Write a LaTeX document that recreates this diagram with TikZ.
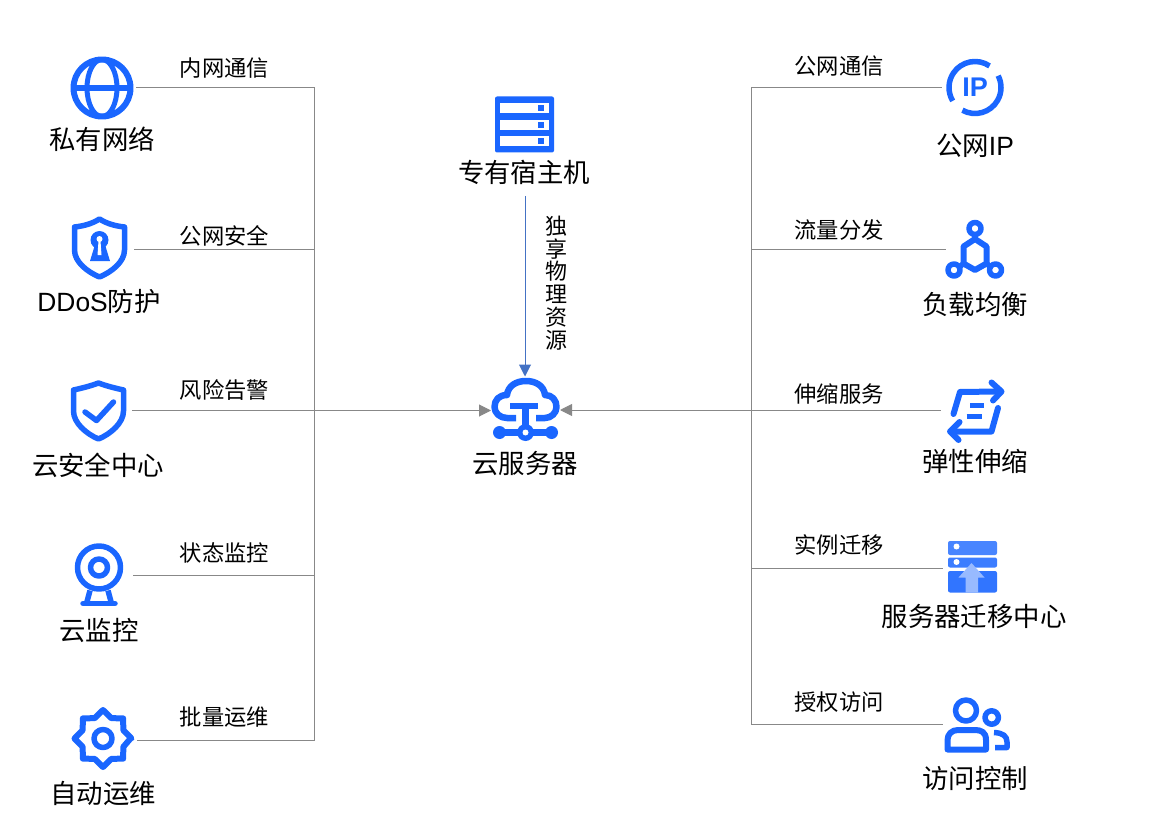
\documentclass[tikz,border=0pt]{standalone}
\usepackage{fontspec}
\setmainfont{Liberation Sans}
\newfontfamily\cjk{Noto Sans CJK SC}
\usetikzlibrary{arrows.meta}
\definecolor{iconblue}{HTML}{1A66FF}
\definecolor{linkgray}{HTML}{888888}
\definecolor{hostblue}{HTML}{4472C4}
\begin{document}
\begin{tikzpicture}[x=1pt,y=-1pt]
    \tikzset {
        icon/.style = {draw=iconblue,line width=5.5pt,line join=round,line cap=round},
        link/.style = {draw=linkgray,line width=1pt},
        big label/.style = {font=\cjk\fontsize{26.4}{30}\selectfont,text=black,inner sep=0pt},
        small label/.style = {font=\cjk\fontsize{22.3}{26}\selectfont,text=black,inner sep=0pt},
        globe icon/.pic = {
            \draw[icon,line width=6pt] (0,0) circle (28.5);
            \draw[icon,line width=5pt] (0,0) ellipse (15 and 28.5);
            \draw[icon,line cap=butt] (-28,0) -- (28,0);
        },
        lock shield icon/.pic = {
            \draw[icon] (0,-29) .. controls (-8,-24) and (-16,-22) .. (-25,-21) -- (-25,2) .. controls (-25,14) and (-12,24) .. (0,29) .. controls (12,24) and (25,14) .. (25,2) -- (25,-21) .. controls (16,-22) and (8,-24) .. (0,-29) -- cycle;
            \fill[iconblue] (0,-8) circle (9);
            \fill[iconblue] (-4,-5) -- (-9.5,13) -- (10.5,13) -- (5,-5) -- cycle;
            \fill[white] (0,-9) circle (3);
            \fill[white] (-1,-7) -- (-2,7) -- (2,7) -- (1,-7) -- cycle;
        },
        check shield icon/.pic = {
            \draw[icon] (0,-28) .. controls (-8,-25) and (-16,-23) .. (-25,-21) -- (-25,0) .. controls (-25,12) and (-12,23) .. (0,28) .. controls (12,23) and (25,12) .. (25,0) -- (25,-21) .. controls (16,-23) and (8,-25) .. (0,-28) -- cycle;
            \draw[icon] (-13.5,1) -- (-2,9.5) -- (15,-9);
        },
        camera icon/.pic = {
            \draw[icon] (0,0) circle (21.5);
            \draw[icon] (0,0) circle (8.5);
            \draw[icon,line cap=butt] (-9,23) -- (-12.5,36);
            \draw[icon,line cap=butt] (9,23) -- (12.5,36);
            \draw[icon] (-16,36) -- (16,36);
        },
        gear icon/.pic = {
            \draw[icon,line width=6pt] (0:27.5) \foreach \a in {0,45,...,315} { -- (\a+22.5:22) -- (\a+45:28.5) } -- cycle;
            \draw[icon] (0,0) circle (9);
        },
        server icon/.pic = {
            \fill[iconblue,rounded corners=2pt] (-29.5,-28) rectangle (29.5,28);
            \foreach \y in {-16,0.5,17} {
                \fill[white] (-25,\y-5) rectangle (24,\y+5);
                \fill[iconblue] (13,\y-3) rectangle (19,\y+3);
            }
        },
        cloud icon/.pic = {
            \draw[icon,line cap=butt,line width=6.5pt] (-9,8) -- (-18,8) .. controls (-25,8) and (-30.5,3) .. (-30.5,-3) .. controls (-30.5,-10) and (-26,-15) .. (-18,-15) .. controls (-17,-24) and (-9,-29) .. (1,-29) .. controls (11,-29) and (19,-24) .. (20,-15) .. controls (27,-15) and (31.5,-10) .. (31.5,-3) .. controls (31.5,3) and (26,8) .. (20,8) -- (11,8);
            \draw[icon,line cap=butt,line width=6.5pt] (-15,-4) -- (13,-4);
            \draw[icon,line cap=butt,line width=6.5pt] (0.5,-4) -- (0.5,22.5);
            \draw[icon,line cap=butt,line width=6.5pt] (-25,22.5) -- (26,22.5);
            \fill[iconblue] (-25.5,22.5) circle (6.5);
            \fill[iconblue] (26.5,22.5) circle (6.5);
            \fill[iconblue] (0.5,22.5) circle (8.5);
            \fill[white] (0.5,22.5) circle (3);
        },
        ip icon/.pic = {
            \draw[icon,line cap=butt] (-56:26) arc[start angle=-56,end angle=-211,radius=26];
            \draw[icon,line cap=butt] (-241:26) arc[start angle=-241,end angle=-387,radius=26];
            \node[font=\bfseries\fontsize{27}{27}\selectfont,text=iconblue,inner sep=0pt] at (0,0) {IP};
        },
        balance icon/.pic = {
            \draw[icon,line width=6pt] (0,-16) -- (11.5,-8.5) -- (11.5,8.5) -- (0,15) -- (-11.5,8.5) -- (-11.5,-8.5) -- cycle;
            \draw[icon] (0,-26.5) circle (6);
            \draw[icon] (-21,15) circle (6);
            \draw[icon] (20.5,15) circle (6);
            \draw[icon] (0,-20) -- (0,-16);
            \draw[icon] (-11.5,8.5) -- (-15.5,12);
            \draw[icon] (11.5,8.5) -- (15.5,12);
        },
        scaling icon/.pic = {
            \draw[icon,line width=6pt] (-21.5,3) -- (-15,-19) -- (23,-19.5);
            \draw[icon,line width=6pt] (16.5,-28.5) -- (26.5,-19.5) -- (18,-10.5);
            \draw[icon,line width=6pt] (23,-3) -- (16.5,20.5) -- (-23,20.5);
            \draw[icon,line width=6pt] (-15.5,11) -- (-25,20.5) -- (-16.5,29);
            \draw[icon,line cap=butt] (-5,-5.5) -- (9,-5.5);
            \draw[icon,line cap=butt] (-8.5,5.5) -- (6.5,5.5);
        },
        migration icon/.pic = {
            \fill[iconblue!80!white,rounded corners=2pt] (-25,-25.5) rectangle (24,-11.5);
            \fill[iconblue!85!white,rounded corners=2pt] (-25,-9) rectangle (24,1);
            \fill[iconblue!90!white,rounded corners=2pt] (-25,4.5) rectangle (24,26);
            \fill[white] (-16.5,-20) circle (3);
            \fill[white] (-16.5,-4.5) circle (3);
            \fill[iconblue!45!white] (-1.5,-3.5) -- (11.5,11) -- (5,11) -- (5,26) -- (-7.5,26) -- (-7.5,11) -- (-14.5,11) -- cycle;
        },
        users icon/.pic = {
            \draw[icon] (-9,-19.5) circle (10.5);
            \draw[icon,line width=6pt] (-27.5,19.5) -- (11,19.5) -- (11,10) .. controls (11,2) and (6,0) .. (0,0) -- (-17,0) .. controls (-23,0) and (-27.5,4) .. (-27.5,10) -- cycle;
            \draw[icon] (16.7,-12.5) circle (6.7);
            \draw[icon,line cap=butt] (19,2.5) .. controls (28,3) and (32,6) .. (32,12) -- (32,17.5) -- (20,17.5);
        }
    }
    \useasboundingbox (0,0) rectangle (1174,834);

    \path(102,88) pic {globe icon};
    \path(99.5,248) pic {lock shield icon};
    \path(98.5,411) pic {check shield icon};
    \path(99,567.5) pic {camera icon};
    \path(103,738.5) pic {gear icon};
    \path(524.5,124.5) pic {server icon};
    \path(525,410) pic {cloud icon};
    \path(975,87.5) pic {ip icon};
    \path(975,255) pic {balance icon};
    \path(975,411) pic {scaling icon};
    \path(973,566.5) pic {migration icon};
    \path(975,730) pic {users icon};

    \node[big label] (vpc) at (102,139) {私有网络};
    \node[big label] (ddos) at (99,302) {{\normalfont\fontsize{26.4}{30}\selectfont DDoS}防护};
    \node[big label] (sec) at (98,465) {云安全中心};
    \node[big label] (mon) at (99,630) {云监控};
    \node[big label] (auto) at (103,793) {自动运维};
    \node[big label] (host) at (524,172) {专有宿主机};
    \node[big label] (ecs) at (525,463) {云服务器};
    \node[big label] (eip) at (975,146) {公网{\normalfont\fontsize{26.4}{30}\selectfont IP}};
    \node[big label] (slb) at (975,304) {负载均衡};
    \node[big label] (ess) at (975,461) {弹性伸缩};
    \node[big label] (smc) at (974,617) {服务器迁移中心};
    \node[big label] (ram) at (975,778) {访问控制};

    \node[small label] (vpc text) at (224.5,68) {内网通信};
    \node[small label] (ddos text) at (224.5,236) {公网安全};
    \node[small label] (sec text) at (224.5,390) {风险告警};
    \node[small label] (mon text) at (224.5,553) {状态监控};
    \node[small label] (auto text) at (224.5,717) {批量运维};
    \node[small label] (eip text) at (839,66) {公网通信};
    \node[small label] (slb text) at (839,230) {流量分发};
    \node[small label] (ess text) at (839,394) {伸缩服务};
    \node[small label] (smc text) at (839,545) {实例迁移};
    \node[small label] (ram text) at (839,702) {授权访问};
    \node[small label,align=center,font=\cjk\fontsize{22}{22.7}\selectfont] (host text) at (556,283) {独\\享\\物\\理\\资\\源};

    \coordinate (left join) at (314.5,410.5);
    \coordinate (right join) at (751,410);
    \coordinate (vpc port) at (136,88);
    \coordinate (ddos port) at (134,249.5);
    \coordinate (sec port) at (132,410.5);
    \coordinate (mon port) at (133,575);
    \coordinate (auto port) at (137,740);
    \coordinate (eip port) at (942,88);
    \coordinate (slb port) at (946,249.5);
    \coordinate (ess port) at (941,410.5);
    \coordinate (smc port) at (943,568.5);
    \coordinate (ram port) at (943,724.5);
    \coordinate (ecs west) at (491,410.5);
    \coordinate (ecs east) at (560,410);
    \coordinate (ecs north) at (525,376.5);
    \coordinate (host south) at (525,196);

    \draw[link] (left join) |- (vpc port);
    \draw[link] (left join) |- (ddos port);
    \draw[link] (left join) -- (sec port);
    \draw[link] (left join) |- (mon port);
    \draw[link] (left join) |- (auto port);
    \draw[link] (right join) |- (eip port);
    \draw[link] (right join) |- (slb port);
    \draw[link] (right join) |- (ess port);
    \draw[link] (right join) |- (smc port);
    \draw[link] (right join) |- (ram port);
    \draw[link,-{Triangle[length=12pt,width=12pt]}] (left join) -- (ecs west);
    \draw[link,-{Triangle[length=12pt,width=12pt]}] (right join) -- (ecs east);
    \draw[draw=hostblue,line width=1pt,-{Triangle[length=12pt,width=12pt]}] (host south) -- (ecs north);
\end{tikzpicture}
\end{document}
